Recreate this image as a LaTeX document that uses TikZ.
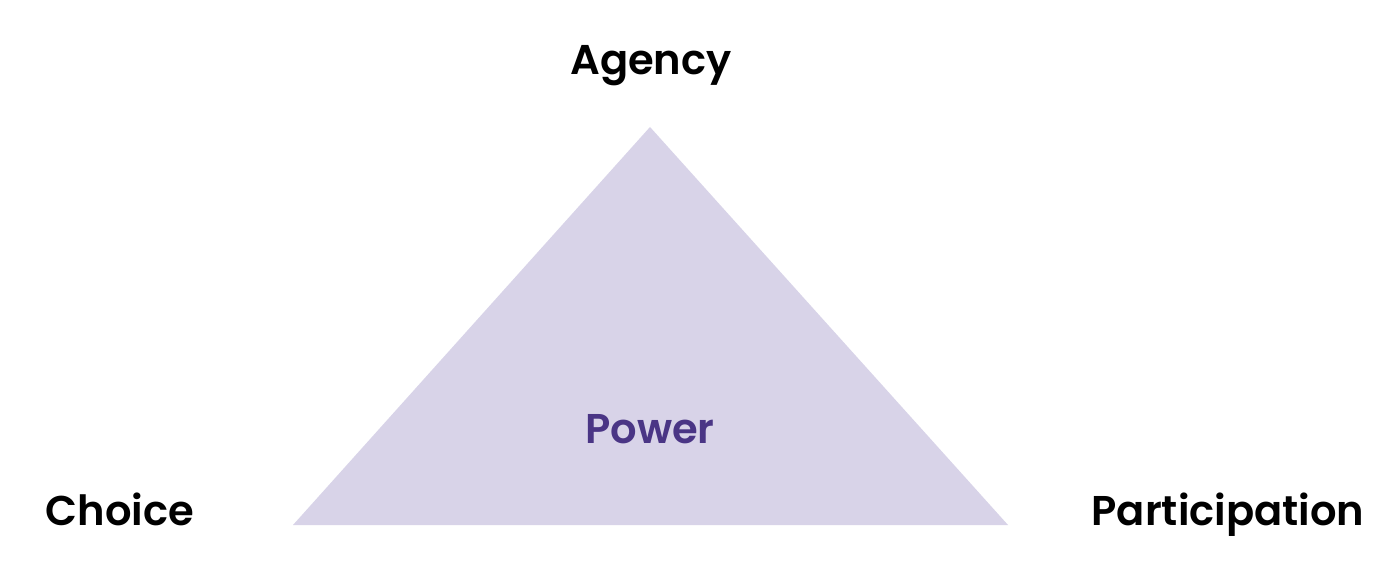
\documentclass[tikz,border=0pt]{standalone}
\usepackage{fontspec}
\setmainfont{Poppins}[BoldFont={* SemiBold}, Ligatures=NoCommon]
\definecolor{trifill}{HTML}{D8D3E8}
\definecolor{powercol}{HTML}{4A3585}
\tikzset{
  lbl/.style={anchor=base, inner sep=0pt, font=\fontsize{41.6}{48}\selectfont\bfseries, text=black},
  plbl/.style={lbl, text=powercol}
}
\begin{document}
\begin{tikzpicture}[x=1pt,y=-1pt]
\useasboundingbox (0,0) rectangle (1400,564);
\fill[white] (0,0) rectangle (1400,564);
\coordinate (apex) at (650,127);
\coordinate (bl) at (293,525);
\coordinate (br) at (1008,525);
\fill[trifill] (apex) -- (bl) -- (br) -- cycle;
\node[plbl] (power) at (650,443) {Power};
\node[lbl] (agency) at (651,75) {Agency};
\node[lbl] (choice) at (120,525) {Choice};
\node[lbl] (part) at (1228,525) {Participation};
\end{tikzpicture}
\end{document}
